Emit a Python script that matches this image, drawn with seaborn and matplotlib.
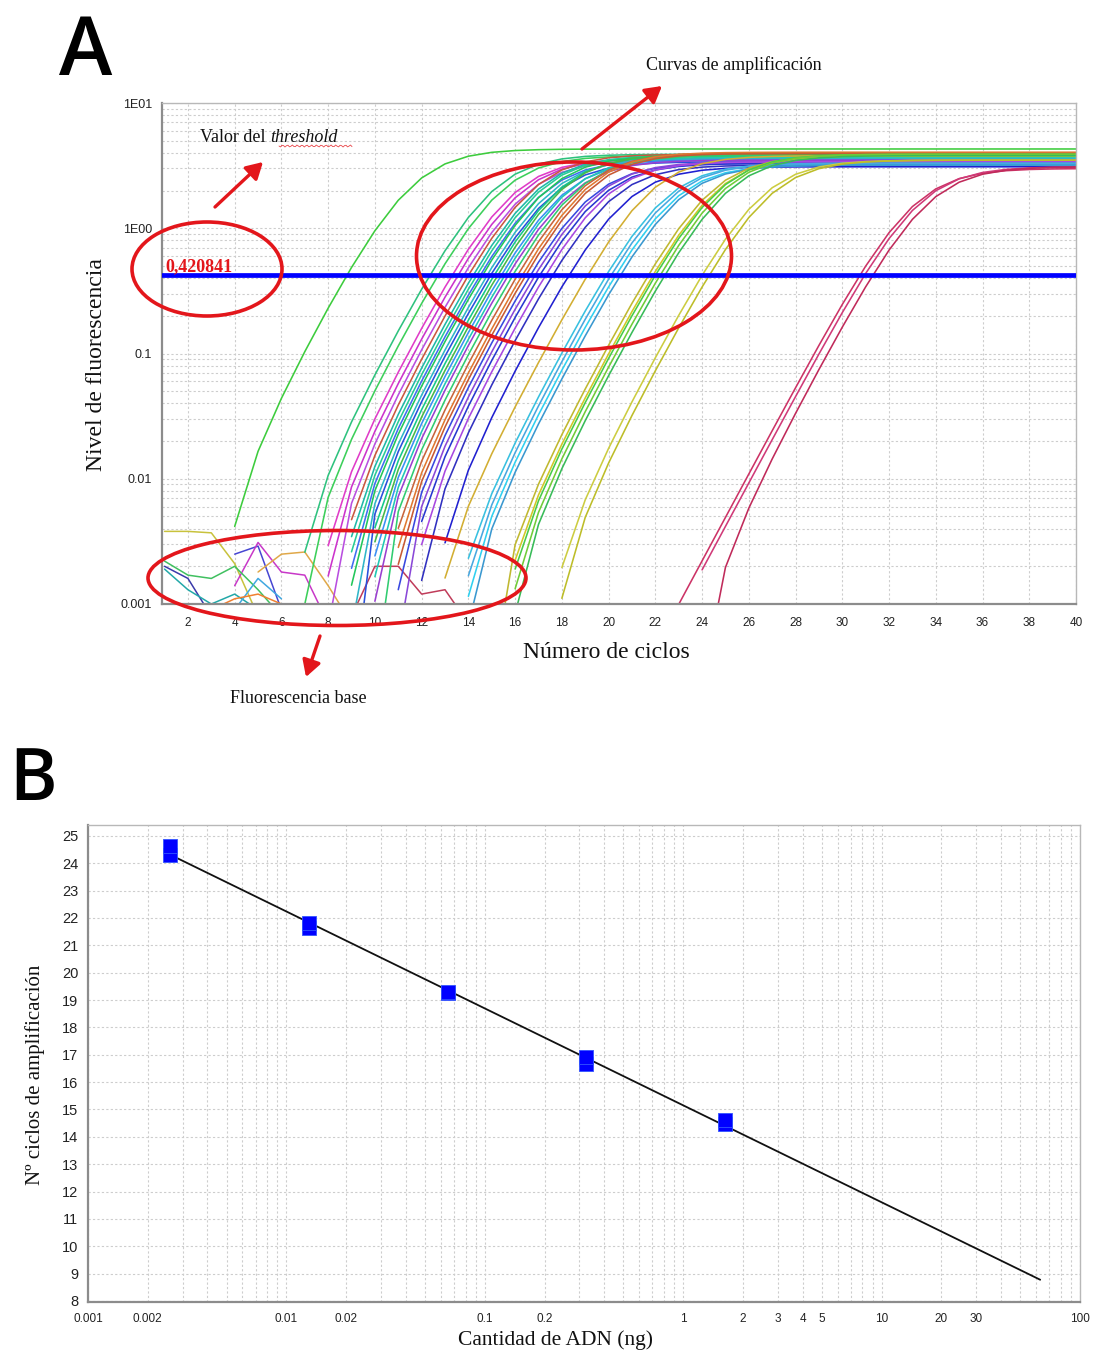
import numpy as np
import pandas as pd
import matplotlib
matplotlib.use("Agg")
import matplotlib.pyplot as plt
import seaborn as sns
from matplotlib.patches import Ellipse
from matplotlib.ticker import FixedLocator, FixedFormatter, NullFormatter

# ---------------- Panel A data (amplification curves) ----------------
cycles = np.arange(1, 41)
threshold = 0.420841
curve_slope = 1.25  # logistic width (cycles)

curve_ct = [8.8, 12.35, 12.7, 13.3, 13.55, 13.8, 14.0, 14.2, 14.35, 14.5,
            14.6, 14.8, 14.95, 15.1, 15.25, 15.4, 15.55, 15.7, 15.9, 16.1,
            16.3, 16.45, 16.65, 16.85, 17.05, 17.3, 17.6, 18.3, 19.1, 19.9,
            20.1, 20.3, 20.5, 21.7, 21.9, 22.0, 22.2, 22.4, 24.0, 24.3,
            30.75, 30.95, 31.3]
curve_plateau = [4.3, 3.9, 3.8, 3.6, 3.6, 3.5, 3.9, 3.8, 3.8, 3.5,
                 3.8, 3.6, 3.4, 3.8, 3.9, 3.5, 3.7, 3.5, 3.8, 4.0,
                 4.05, 3.95, 3.3, 3.4, 3.3, 3.4, 3.2, 3.1, 3.8, 3.3,
                 3.3, 3.2, 3.2, 3.8, 3.8, 3.9, 3.9, 3.8, 3.5, 3.5,
                 3.0, 3.1, 3.1]
curve_baseline = [0.006] + [0.004] * 27 + [0.002] * 12 + [0.0, 0.0, 0.0012]
curve_start = [1] * 40 + [23, 24, 1]
curve_colors = ['#3dcc3d', '#2ec27e', '#3ccf5a', '#e03cc8', '#cc33cc', '#b94ee0',
                '#c9573f', '#1fb8a8', '#28cc96', '#3f6df0', '#22c75a', '#2fb5c8',
                '#2950dc', '#14c98a', '#48b848', '#3a8ff5', '#20c8b4', '#9a3fd0',
                '#30cc70', '#c8643c', '#e07830', '#c85a34', '#3848e0', '#8a48d8',
                '#2838d0', '#a848e0', '#3030c0', '#2020d0', '#d2ae32', '#38c0e0',
                '#48a8e0', '#30d0f0', '#3a98d0', '#c0b830', '#d0c828', '#48cc48',
                '#70cc38', '#38bb58', '#cccc40', '#bdbd28', '#cc3366', '#d03a78',
                '#c02a5a']

# baseline noise traces (cycle, fluorescence)
noise_cycles_a = [1, 2, 3, 4, 5]
noise_values_a = [0.0038, 0.0038, 0.0037, 0.0021, 0.0008]
noise_cycles_b = [4, 5, 6]
noise_values_b = [0.0025, 0.0029, 0.0009]
noise_cycles_c = [4, 5, 6, 7, 8]
noise_values_c = [0.0014, 0.0031, 0.0018, 0.0017, 0.0007]
noise_cycles_d = [5, 6, 7, 8, 9]
noise_values_d = [0.0018, 0.0025, 0.0026, 0.0014, 0.0007]
noise_cycles_e = [1, 2, 3, 4, 5, 6]
noise_values_e = [0.0022, 0.0017, 0.0016, 0.0020, 0.0013, 0.0008]
noise_cycles_f = [1, 2, 3]
noise_values_f = [0.0020, 0.0016, 0.0008]
noise_cycles_g = [1, 2, 3, 4, 5]
noise_values_g = [0.0019, 0.0013, 0.0010, 0.0012, 0.0009]
noise_cycles_h = [4, 5, 6]
noise_values_h = [0.0009, 0.0016, 0.0011]
noise_cycles_i = [3, 4, 5, 6, 7]
noise_values_i = [0.0009, 0.0011, 0.0012, 0.0010, 0.0008]
noise_cycles_j = [9, 10, 11, 12, 13, 14]
noise_values_j = [0.0008, 0.0020, 0.0020, 0.0012, 0.0013, 0.0007]
noise_colors = ['#c8c23c', '#4646d2', '#c838c8', '#e0a848', '#40c060',
                '#3a3aaa', '#22a8a8', '#40a8e0', '#f08030', '#c03c5a']

a_xticks = list(range(2, 41, 2))
a_yticks = [0.001, 0.01, 0.1, 1, 10]
a_yticklabels = ['0.001', '0.01', '0.1', '1E00', '1E01']

# ---------------- Panel B data (standard curve) ----------------
dna_ng = [0.0026, 0.0026, 0.013, 0.013, 0.065, 0.065, 0.325, 0.325, 1.625, 1.625]
ct_std = [24.3, 24.62, 21.62, 21.82, 19.25, 19.3, 16.68, 16.9, 14.48, 14.6]
fit_range_ng = [0.0026, 63]
b_xticks = [0.001, 0.002, 0.01, 0.02, 0.1, 0.2, 1, 2, 3, 4, 5, 10, 20, 30, 100]
b_xticklabels = ['0.001', '0.002', '0.01', '0.02', '0.1', '0.2', '1', '2', '3',
                 '4', '5', '10', '20', '30', '100']
b_yticks = list(range(8, 26))

# ---------------- build curves ----------------
def amplification(ct, plateau, base, start):
    half = ct + curve_slope * np.log(plateau / (threshold + base) - 1)
    f = plateau / (1 + np.exp(-(cycles - half) / curve_slope)) - base
    return np.where((f > 0) & (cycles >= start), f, np.nan)

rows = []
for i, (ct, p, b, s) in enumerate(zip(curve_ct, curve_plateau, curve_baseline, curve_start)):
    vals = amplification(ct, p, b, s)
    for c, v in zip(cycles, vals):
        if np.isfinite(v):
            rows.append((f"c{i:02d}", c, v))
curves_df = pd.DataFrame(rows, columns=["curve", "cycle", "fluor"])

noise_sets = [(noise_cycles_a, noise_values_a), (noise_cycles_b, noise_values_b),
              (noise_cycles_c, noise_values_c), (noise_cycles_d, noise_values_d),
              (noise_cycles_e, noise_values_e), (noise_cycles_f, noise_values_f),
              (noise_cycles_g, noise_values_g), (noise_cycles_h, noise_values_h),
              (noise_cycles_i, noise_values_i), (noise_cycles_j, noise_values_j)]
nrows = []
for i, (cs, vs) in enumerate(noise_sets):
    for c, v in zip(cs, vs):
        nrows.append((f"n{i}", c, v))
noise_df = pd.DataFrame(nrows, columns=["trace", "cycle", "fluor"])

# ---------------- figure ----------------
sns.set_theme(style="white")
plt.rcParams['font.family'] = ['Liberation Sans', 'DejaVu Sans']
SERIF = ['Liberation Serif', 'DejaVu Serif']
RED = '#e3161b'
GRID = dict(color='#cdcdcd', linestyle=(0, (2, 2)), linewidth=0.8)

W, H = 1096, 1358
fig = plt.figure(figsize=(W / 100, H / 100), dpi=100)

def box(l, t, r, b):
    return [l / W, 1 - b / H, (r - l) / W, (b - t) / H]

axA = fig.add_axes(box(162, 103, 1076, 604))
axB = fig.add_axes(box(88, 825, 1080, 1302))

# ---- Panel A ----
axA.set_yscale('log')
sns.lineplot(data=noise_df, x="cycle", y="fluor", hue="trace",
             palette=dict(zip([f"n{i}" for i in range(len(noise_sets))], noise_colors)),
             estimator=None, sort=False, legend=False, linewidth=1.1, ax=axA)
sns.lineplot(data=curves_df, x="cycle", y="fluor", hue="curve",
             palette=dict(zip([f"c{i:02d}" for i in range(len(curve_ct))], curve_colors)),
             estimator=None, sort=False, legend=False, linewidth=1.15, ax=axA)
axA.axhline(threshold, color='#0000ff', linewidth=3.4, zorder=5)
axA.annotate("0,420841", xy=(1, threshold), xytext=(0.5, 3.2), textcoords='offset points',
             ha='left', va='baseline', color=RED, fontsize=13, fontweight='bold',
             family=SERIF, zorder=6)

axA.set_xlim(0.89, 40)
axA.set_ylim(0.001, 10)
axA.xaxis.set_major_locator(FixedLocator(a_xticks))
axA.xaxis.set_major_formatter(FixedFormatter([str(t) for t in a_xticks]))
axA.yaxis.set_major_locator(FixedLocator(a_yticks))
axA.yaxis.set_major_formatter(FixedFormatter(a_yticklabels))
minor_y = [m * 10.0 ** e for e in range(-3, 1) for m in range(2, 10)]
axA.yaxis.set_minor_locator(FixedLocator(minor_y))
axA.yaxis.set_minor_formatter(NullFormatter())
axA.grid(True, which='major', axis='both', **GRID)
axA.grid(True, which='minor', axis='y', **GRID)
axA.tick_params(axis='both', which='major', direction='out', length=4, width=1,
                color='#888888', labelcolor='#222222', pad=3)
axA.tick_params(axis='x', labelsize=8.5, pad=5)
axA.tick_params(axis='y', labelsize=9)
axA.tick_params(axis='both', which='minor', length=0)
for side in ['left', 'bottom']:
    axA.spines[side].set_color('#8c8c8c')
    axA.spines[side].set_linewidth(1.6)
for side in ['top', 'right']:
    axA.spines[side].set_color('#b8b8b8')
    axA.spines[side].set_linewidth(1.0)
axA.set_xlabel("Número de ciclos", family=SERIF, fontsize=17, color='#111111')
axA.set_ylabel("Nivel de fluorescencia", family=SERIF, fontsize=17, color='#111111')
axA.xaxis.set_label_coords((606 - 162) / 914, (604 - 642) / 501)
axA.yaxis.set_label_coords((107 - 162) / 914, (604 - 365) / 501)

# ---- Panel B ----
axB.set_xscale('log')
coef = np.polyfit(np.log10(dna_ng), ct_std, 1)
fit_x = np.array(fit_range_ng)
fit_y = np.polyval(coef, np.log10(fit_x))
sns.lineplot(x=fit_x, y=fit_y, color='#111111', linewidth=1.3, ax=axB, zorder=2)
sns.scatterplot(x=dna_ng, y=ct_std, marker='s', s=90, color='#0000ff',
                edgecolor='#3355ff', linewidth=0.6, ax=axB, zorder=3)
axB.set_xlim(0.001, 100)
axB.set_ylim(7.96, 25.4)
axB.xaxis.set_major_locator(FixedLocator(b_xticks))
axB.xaxis.set_major_formatter(FixedFormatter(b_xticklabels))
minor_x = [m * 10.0 ** e for e in range(-3, 2) for m in range(1, 10)]
minor_x = [v for v in minor_x if not any(np.isclose(v, t) for t in b_xticks)]
axB.xaxis.set_minor_locator(FixedLocator(minor_x))
axB.xaxis.set_minor_formatter(NullFormatter())
axB.yaxis.set_major_locator(FixedLocator(b_yticks))
axB.yaxis.set_major_formatter(FixedFormatter([str(t) for t in b_yticks]))
axB.grid(True, which='both', axis='x', **GRID)
axB.grid(True, which='major', axis='y', **GRID)
axB.tick_params(axis='both', which='major', direction='out', length=4, width=1,
                color='#888888', labelcolor='#222222')
axB.tick_params(axis='x', labelsize=8.5, pad=4)
axB.tick_params(axis='y', labelsize=10.5, pad=3)
axB.tick_params(axis='both', which='minor', length=0)
for side in ['left', 'bottom']:
    axB.spines[side].set_color('#8c8c8c')
    axB.spines[side].set_linewidth(1.6)
for side in ['top', 'right']:
    axB.spines[side].set_color('#b8b8b8')
    axB.spines[side].set_linewidth(1.0)
axB.set_xlabel("Cantidad de ADN (ng)", family=SERIF, fontsize=15.5, color='#111111')
axB.set_ylabel("Nº ciclos de amplificación", family=SERIF, fontsize=15, color='#111111')
axB.xaxis.set_label_coords((556 - 88) / 992, (1302 - 1330) / 477)
axB.yaxis.set_label_coords((45 - 88) / 992, (1302 - 1075) / 477)

# ---------------- overlay annotations (pixel coordinates) ----------------
ov = fig.add_axes([0, 0, 1, 1], zorder=10)
ov.set_xlim(0, W)
ov.set_ylim(H, 0)
ov.axis('off')
ov.patch.set_alpha(0)

ov.text(59, 75, "A", fontsize=58, family=['Open Sans', 'DejaVu Sans'],
        fontweight='semibold', ha='left', va='baseline', color='black')
ov.text(9, 800, "B", fontsize=52, family=['Open Sans', 'DejaVu Sans'],
        fontweight='semibold', ha='left', va='baseline', color='black')

ov.text(646, 70, "Curvas de amplificación", family=SERIF, fontsize=13,
        ha='left', va='baseline', color='#111111')
t1 = ov.text(200, 142, "Valor del", family=SERIF, fontsize=13,
             ha='left', va='baseline', color='#111111')
ov.annotate("threshold", xy=(1, 0), xycoords=t1, xytext=(3.5, 0),
            textcoords='offset points', family=SERIF, fontsize=13,
            style='italic', ha='left', va='bottom', color='#111111')
wx = np.linspace(279, 352, 50)
ov.plot(wx, 146 + 1.0 * np.sin((wx - 279) * 1.3), color=RED, lw=0.6, alpha=0.8)
ov.text(230, 703, "Fluorescencia base", family=SERIF, fontsize=13,
        ha='left', va='baseline', color='#111111')

for (cx, cy, w, h) in [(207, 269, 150, 94), (574, 256, 315, 188), (337, 578, 378, 95)]:
    ov.add_patch(Ellipse((cx, cy), w, h, fill=False, edgecolor=RED, lw=2.6))

arrow_kw = dict(arrowstyle='-|>,head_length=0.7,head_width=0.4', color=RED, lw=2.4,
                shrinkA=0, shrinkB=0, mutation_scale=14)
for tail, head in [((215, 207), (263, 162)), ((582, 149), (662, 86)),
                   ((320, 636), (306, 677))]:
    ov.annotate("", xy=head, xytext=tail, arrowprops=arrow_kw)

fig.savefig("out.png", dpi=100)
